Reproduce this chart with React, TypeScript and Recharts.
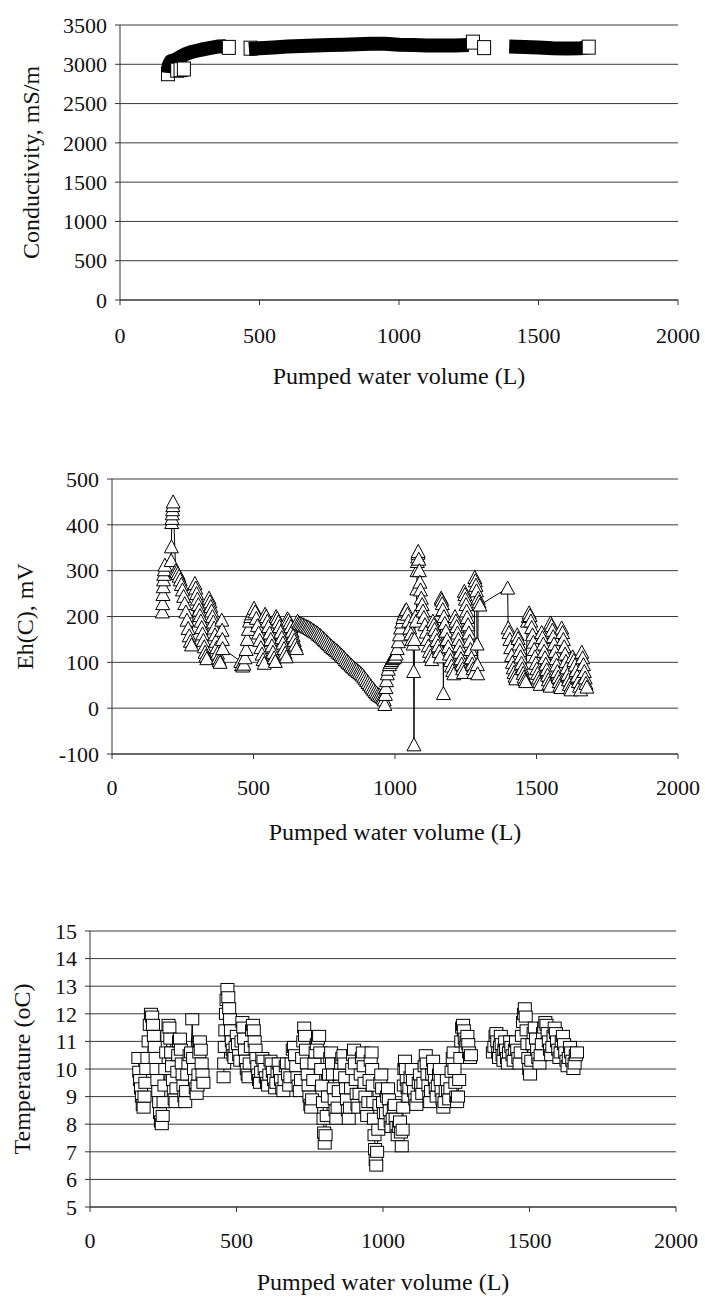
import { CartesianGrid, Scatter, ScatterChart, XAxis, YAxis } from 'recharts';

type Pt = [number, number];

const FONT = 'Liberation Serif';
const INK = '#111';
const GRID = '#3a3a3a';

const VOLUME_TICKS = [0, 500, 1000, 1500, 2000];
const COND_TICKS = [0, 500, 1000, 1500, 2000, 2500, 3000, 3500];
const EH_TICKS = [-100, 0, 100, 200, 300, 400, 500];
const TEMP_TICKS = [5, 6, 7, 8, 9, 10, 11, 12, 13, 14, 15];

// Conductivity (mS/m) – three logging runs, so dense they read as one band
const condRun1: Pt[] = [
  [172, 2890], [175, 2990], [182, 3040], [200, 3060], [215, 3090], [235, 3130],
  [260, 3160], [290, 3185], [320, 3205], [350, 3225], [380, 3230],
];
const condRun2: Pt[] = [
  [462, 3195], [500, 3205], [550, 3215], [600, 3225], [650, 3232], [700, 3238],
  [750, 3245], [800, 3250], [850, 3255], [900, 3262], [950, 3260], [1000, 3250],
  [1050, 3245], [1100, 3240], [1150, 3238], [1200, 3240], [1250, 3245],
];
const condRun3: Pt[] = [
  [1395, 3225], [1450, 3220], [1500, 3215], [1550, 3205], [1600, 3200],
  [1650, 3205], [1680, 3215],
];
const condFirst: Pt[] = [[172, 2880], [468, 3205]];
const condLast: Pt[] = [
  [205, 2925], [217, 2932], [229, 2940], [390, 3215], [1265, 3282],
  [1305, 3212], [1680, 3218],
];

// Eh(C) in mV
const ehStart: Pt[] = [
  [178, 210], [179, 228], [180, 248], [181, 265], [182, 280], [183, 292], [185, 302],
  [187, 312], [209, 322], [210, 352], [211, 405], [212, 414], [213, 424], [214, 433],
  [215, 442], [216, 450],
];
const ehEarly: Pt[] = [
  [225, 300], [229, 298], [233, 294], [237, 288], [241, 280], [245, 270], [249, 258],
  [253, 244], [257, 228], [261, 210], [265, 192], [269, 174], [273, 158], [277, 146],
  [281, 138], [293, 272], [296, 262], [299, 250], [302, 238], [305, 226], [308, 214],
  [311, 202], [314, 190], [317, 176], [320, 162], [323, 148], [326, 134], [329, 122],
  [332, 114], [335, 108], [343, 240], [346, 232], [349, 222], [352, 212], [355, 200],
  [358, 188], [361, 175], [364, 160], [367, 146], [370, 132], [373, 120], [376, 110],
  [379, 104], [382, 100], [388, 192], [389, 170], [390, 150], [391, 130],
];
const ehMiddle: Pt[] = [
  [455, 102], [458, 95], [462, 92], [466, 96], [470, 110], [474, 128], [478, 150],
  [482, 172], [486, 190], [490, 200], [494, 206], [498, 212], [502, 218], [506, 210],
  [510, 196], [514, 180], [518, 164], [522, 148], [526, 132], [530, 118], [534, 106],
  [538, 98], [541, 205], [545, 200], [549, 190], [553, 178], [557, 164], [561, 150],
  [565, 136], [569, 122], [573, 110], [577, 102], [580, 200], [584, 196], [588, 188],
  [592, 178], [596, 166], [600, 154], [604, 142], [608, 130], [612, 120], [616, 112],
  [620, 195], [624, 192], [628, 186], [632, 178], [636, 168], [640, 158], [644, 148],
  [648, 138], [652, 130], [656, 190],
];
// slow decline towards the minimum near 960 L
const ehDecline: Pt[] = [
  [660, 186], [665, 185], [670, 183], [675, 182], [680, 180], [685, 179], [690, 177],
  [695, 176], [700, 174], [705, 172], [710, 170], [715, 168], [720, 166], [725, 164],
  [730, 161], [735, 159], [740, 156], [745, 153], [750, 150], [755, 147], [760, 144],
  [765, 141], [770, 138], [775, 135], [780, 132], [785, 130], [790, 127], [795, 125],
  [800, 122], [805, 119], [810, 116], [815, 113], [820, 110], [825, 106], [830, 103],
  [835, 100], [840, 97], [845, 94], [850, 91], [855, 88], [860, 85], [865, 83],
  [870, 80], [875, 78], [880, 75], [885, 72], [890, 68], [895, 64], [900, 60],
  [905, 56], [910, 52], [915, 48], [920, 44], [925, 40], [930, 36], [935, 33],
  [940, 30], [945, 28], [950, 26], [955, 24], [958, 22],
];
const ehLate: Pt[] = [
  [962, 18], [964, 8], [966, 30], [968, 45], [970, 60], [973, 75], [976, 85], [980, 95],
  [984, 100], [988, 104], [992, 108], [996, 110], [1000, 112], [1004, 118], [1008, 130],
  [1012, 145], [1016, 160], [1020, 175], [1024, 188], [1028, 198], [1032, 206],
  [1036, 212], [1040, 215], [1044, 205], [1048, 190], [1052, 175], [1056, 162],
  [1060, 150], [1064, 140], [1066, 80], [1067, -80], [1069, 150], [1072, 200],
  [1075, 190], [1077, 260], [1078, 300], [1079, 320], [1080, 330], [1081, 338],
  [1082, 342], [1084, 325], [1086, 300], [1088, 275], [1090, 258], [1093, 240],
  [1096, 226], [1099, 212], [1102, 198], [1106, 182], [1110, 166], [1114, 150],
  [1118, 136], [1122, 124], [1126, 114], [1130, 106], [1134, 190], [1137, 182],
  [1140, 172], [1144, 160], [1148, 148], [1152, 136], [1156, 124], [1160, 112],
  [1163, 240], [1165, 236], [1167, 228], [1169, 215], [1171, 32], [1173, 200],
  [1176, 185], [1180, 168], [1184, 150], [1188, 134], [1192, 118], [1196, 104],
  [1200, 92], [1204, 82], [1208, 75], [1212, 200], [1215, 190], [1218, 178],
  [1221, 164], [1224, 150], [1227, 136], [1230, 122], [1233, 108], [1236, 96],
  [1239, 86], [1242, 78], [1245, 255], [1247, 248], [1249, 238], [1251, 226],
  [1253, 212], [1255, 198], [1258, 182], [1261, 164], [1264, 146], [1267, 128],
  [1270, 110], [1273, 96], [1276, 86], [1279, 78], [1282, 285], [1284, 278],
  [1286, 268], [1288, 256], [1290, 140], [1291, 95], [1292, 75], [1294, 240],
  [1297, 232], [1300, 225],
];
const ehEnd: Pt[] = [
  [1398, 262], [1400, 175], [1403, 165], [1406, 150], [1409, 132], [1412, 115],
  [1415, 100], [1418, 88], [1421, 78], [1424, 70], [1427, 64], [1432, 160], [1435, 152],
  [1438, 140], [1441, 126], [1444, 112], [1447, 98], [1450, 86], [1453, 76], [1456, 68],
  [1459, 62], [1462, 58], [1468, 190], [1471, 200], [1474, 208], [1477, 202],
  [1480, 190], [1483, 176], [1486, 160], [1489, 144], [1492, 128], [1495, 112],
  [1498, 98], [1501, 86], [1504, 76], [1507, 66], [1510, 58], [1513, 52], [1518, 165],
  [1521, 154], [1524, 140], [1527, 124], [1530, 110], [1533, 96], [1536, 84], [1539, 72],
  [1542, 62], [1545, 54], [1548, 48], [1550, 186], [1553, 180], [1556, 170],
  [1559, 156], [1562, 140], [1565, 124], [1568, 108], [1571, 94], [1574, 80], [1577, 68],
  [1580, 58], [1583, 50], [1586, 45], [1589, 175], [1592, 165], [1595, 150], [1598, 134],
  [1601, 118], [1604, 102], [1607, 88], [1610, 74], [1613, 62], [1616, 52], [1619, 44],
  [1622, 40], [1628, 112], [1632, 104], [1636, 94], [1640, 82], [1644, 70], [1648, 58],
  [1652, 48], [1656, 40], [1660, 122], [1663, 110], [1666, 95], [1669, 80], [1672, 66],
  [1675, 54], [1678, 46],
];

// Temperature in °C
const tempRun1: Pt[] = [
  [165, 10.4], [168, 9.9], [171, 9.6], [174, 9.3], [177, 9.0], [180, 8.7], [183, 8.6],
  [186, 9.0], [189, 9.5], [192, 10.0], [196, 10.4], [200, 11.0], [204, 11.6], [208, 12.0],
  [212, 11.9], [215, 11.6], [218, 11.2], [221, 10.8], [224, 10.4], [227, 10.0], [230, 9.6],
  [233, 9.2], [236, 8.8], [239, 8.4], [242, 8.1], [245, 8.0], [248, 8.3], [251, 8.8],
  [254, 9.4], [257, 10.0], [260, 10.6], [264, 11.2], [268, 11.6], [271, 11.5], [274, 11.1],
  [277, 10.6], [280, 10.1], [283, 9.6], [286, 9.2], [289, 8.9], [292, 8.8], [295, 9.3],
  [298, 9.9], [301, 10.5], [304, 11.0], [307, 11.1], [310, 10.7], [313, 10.2], [316, 9.8],
  [319, 9.4], [322, 9.0], [325, 8.8], [328, 9.2], [332, 9.8], [336, 10.2], [340, 10.5],
  [345, 10.6], [349, 11.8], [352, 10.4], [355, 10.0], [358, 9.6], [361, 9.3], [364, 9.1],
  [367, 9.4], [370, 9.8], [373, 10.6], [375, 11.0], [378, 10.7], [381, 10.2], [384, 9.8],
  [387, 9.5],
];
const tempRun2: Pt[] = [
  [456, 9.7], [458, 10.2], [460, 10.8], [462, 11.4], [464, 12.0], [466, 12.5], [469, 12.9],
  [472, 12.6], [475, 12.2], [478, 11.8], [481, 11.4], [484, 11.0], [487, 10.7], [490, 10.5],
  [493, 10.4], [497, 10.8], [501, 11.2], [505, 10.9], [509, 10.5], [513, 10.3], [517, 11.0],
  [520, 11.7], [523, 11.5], [526, 11.1], [529, 10.7], [532, 10.3], [535, 10.0], [538, 9.8],
  [541, 9.7], [545, 10.2], [549, 10.8], [553, 11.4], [556, 11.6], [559, 11.4], [562, 11.0],
  [565, 10.7], [568, 10.4], [571, 10.1], [574, 9.8], [577, 9.6], [580, 9.5], [584, 9.9],
  [588, 10.4], [592, 10.3], [596, 10.0], [600, 9.7], [604, 9.5], [608, 9.4], [612, 9.8],
  [616, 10.3], [620, 10.2], [624, 9.9], [628, 9.6], [632, 9.3], [636, 9.5], [640, 9.9],
  [644, 10.2], [648, 9.9], [652, 9.6], [656, 9.3], [660, 9.2], [664, 9.6], [668, 10.1],
  [672, 10.2], [676, 9.8], [680, 9.4], [684, 9.7], [688, 10.2], [692, 10.7], [696, 10.8],
  [700, 10.5], [704, 10.1], [708, 9.7], [712, 9.4], [716, 9.2], [720, 9.6], [724, 10.4],
  [728, 11.0], [731, 11.5], [734, 11.2], [737, 10.7], [740, 10.2], [743, 9.8], [746, 9.4],
  [749, 9.0], [752, 8.7], [755, 8.6], [758, 8.9], [762, 9.6], [766, 10.2], [770, 10.6],
  [774, 10.9], [778, 11.1], [782, 11.2], [786, 10.6], [789, 10.0], [792, 9.4], [795, 8.8],
  [797, 8.2], [799, 7.7], [801, 7.3], [804, 7.6], [808, 8.3], [812, 9.0], [816, 9.8],
  [820, 10.4], [823, 10.6], [826, 10.2], [829, 9.8], [832, 9.3], [835, 8.9], [838, 8.5],
  [841, 8.2], [845, 8.6], [849, 9.2], [853, 9.8], [857, 10.2], [861, 10.4], [865, 10.5],
  [868, 10.2], [871, 9.7], [874, 9.3], [877, 8.9], [880, 8.5], [883, 8.2], [887, 8.6],
  [891, 9.3], [895, 10.0], [898, 10.5], [901, 10.7], [904, 10.2], [907, 9.6], [910, 9.1],
  [913, 8.7], [916, 8.6], [920, 9.1], [924, 9.8], [928, 10.4], [931, 10.6], [934, 10.1],
  [937, 9.5], [940, 9.0], [943, 8.6], [946, 8.3], [950, 8.8], [954, 9.6], [958, 10.3],
  [961, 10.6], [963, 10.0], [965, 9.4], [967, 8.8], [969, 8.2], [971, 7.6], [973, 7.1],
  [975, 6.7], [977, 6.5], [980, 7.0], [984, 7.8], [988, 8.7], [991, 9.5], [994, 9.8],
  [997, 9.3], [1000, 8.8], [1003, 8.4], [1006, 8.0], [1010, 8.4], [1014, 9.0], [1017, 9.3],
  [1020, 8.9], [1023, 8.5], [1026, 8.1], [1029, 7.9], [1033, 8.2], [1037, 8.6], [1040, 8.7],
  [1043, 8.2], [1046, 7.9], [1050, 7.6], [1054, 7.9], [1058, 8.1], [1061, 7.7], [1064, 7.2],
  [1067, 7.8], [1069, 8.6], [1071, 9.4], [1073, 10.0], [1075, 10.3], [1078, 10.0],
  [1081, 9.6], [1084, 9.3], [1087, 9.0], [1090, 9.3], [1094, 9.7], [1098, 10.0], [1102, 9.6],
  [1106, 9.2], [1110, 8.9], [1114, 8.7], [1118, 9.0], [1122, 9.5], [1126, 9.8], [1130, 9.4],
  [1134, 9.1], [1138, 9.5], [1142, 10.1], [1146, 10.5], [1149, 10.2], [1152, 9.8],
  [1155, 9.4], [1158, 9.0], [1161, 8.8], [1164, 9.2], [1168, 9.8], [1171, 10.3],
  [1174, 10.0], [1177, 9.6], [1180, 9.3], [1183, 9.0], [1187, 9.4], [1191, 9.8],
  [1194, 10.0], [1197, 9.6], [1200, 9.2], [1203, 8.9], [1206, 8.6], [1210, 8.8],
  [1214, 9.2], [1218, 9.6], [1222, 9.2], [1226, 8.9], [1230, 9.3], [1234, 9.9],
  [1238, 10.4], [1241, 10.6], [1244, 10.0], [1247, 9.5], [1250, 9.0], [1253, 8.8],
  [1256, 9.0], [1260, 9.6], [1264, 10.4], [1267, 11.0], [1270, 11.5], [1273, 11.6],
  [1276, 11.4], [1279, 11.1], [1282, 10.8], [1285, 11.0], [1288, 11.2], [1291, 10.9],
  [1294, 10.6], [1297, 10.4], [1300, 10.5],
];
const tempRun3: Pt[] = [
  [1375, 10.6], [1380, 10.8], [1384, 11.2], [1387, 11.3], [1390, 11.0], [1393, 10.6],
  [1396, 10.4], [1399, 10.8], [1402, 11.2], [1405, 10.9], [1408, 10.5], [1411, 10.3],
  [1414, 10.7], [1417, 11.0], [1420, 10.7], [1423, 10.4], [1426, 10.2], [1430, 10.6],
  [1434, 11.0], [1438, 10.8], [1442, 10.5], [1446, 10.3], [1450, 10.7], [1454, 11.0],
  [1458, 10.7], [1462, 10.4], [1466, 10.2], [1470, 10.6], [1474, 11.2], [1478, 11.7],
  [1481, 12.0], [1484, 12.2], [1487, 11.9], [1490, 11.4], [1493, 10.9], [1496, 10.4],
  [1499, 10.0], [1502, 9.8], [1506, 10.3], [1510, 10.9], [1514, 11.3], [1518, 11.5],
  [1522, 11.1], [1526, 10.7], [1530, 10.4], [1534, 10.2], [1538, 10.5], [1542, 10.9],
  [1546, 11.3], [1550, 11.5], [1554, 11.7], [1558, 11.6], [1562, 11.3], [1566, 11.0],
  [1570, 10.7], [1574, 10.5], [1578, 10.8], [1582, 11.2], [1586, 11.5], [1590, 11.3],
  [1594, 11.0], [1598, 10.7], [1602, 10.4], [1606, 10.6], [1610, 11.0], [1614, 11.2],
  [1618, 10.9], [1622, 10.6], [1626, 10.3], [1630, 10.1], [1634, 10.4], [1638, 10.8],
  [1642, 10.6], [1646, 10.3], [1650, 10.0], [1654, 10.2], [1658, 10.5], [1662, 10.6],
];

const rows = (pts: Pt[]) => pts.map(([x, y]) => ({ x, y }));

const makeSquare = (w: number, h: number) => (props: any) => {
  const { cx, cy } = props;
  return (
    <rect x={cx - w / 2} y={cy - h / 2} width={w} height={h} fill="#fff" stroke="#000" strokeWidth={1} />
  );
};

const Triangle = (props: any) => {
  const { cx, cy } = props;
  return (
    <path
      d={`M${cx},${cy - 7} L${cx + 7},${cy + 6} L${cx - 7},${cy + 6} Z`}
      fill="#fff"
      stroke="#000"
      strokeWidth={1}
    />
  );
};

const Nothing = () => <g />;

const condSquare = makeSquare(13, 14);
const tempSquare = makeSquare(13, 11);

const tickFont = { fontFamily: FONT, fontSize: 22 };
const titleStyle = { fontFamily: FONT, fontSize: 24, fill: INK };

// tick text drawn by hand so the serif face is applied
const XTick = (props: any) => {
  const { x, y, payload } = props;
  return (
    <text x={x} y={y} dy="0.71em" textAnchor="middle" fill={INK} style={tickFont}>
      {payload.value}
    </text>
  );
};

const YTick = (props: any) => {
  const { x, y, payload } = props;
  return (
    <text x={x} y={y} dy="0.35em" textAnchor="end" fill={INK} style={tickFont}>
      {payload.value}
    </text>
  );
};

const xAxisFor = (tickMargin: number, offset: number) => (
  <XAxis
    dataKey="x"
    type="number"
    domain={[0, 2000]}
    ticks={VOLUME_TICKS}
    interval={0}
    tickSize={5}
    tickMargin={tickMargin}
    tick={XTick}
    axisLine={{ stroke: '#333' }}
    tickLine={{ stroke: '#333' }}
    height={40}
    label={{ value: 'Pumped water volume (L)', position: 'bottom', offset, style: titleStyle }}
  />
);

const yAxisFor = (domain: number[], ticks: number[], width: number, title: string, offset: number) => (
  <YAxis
    dataKey="y"
    type="number"
    domain={domain}
    ticks={ticks}
    interval={0}
    width={width}
    tickSize={5}
    tickMargin={8}
    tick={YTick}
    axisLine={{ stroke: '#333' }}
    tickLine={{ stroke: '#333' }}
    label={{
      value: title,
      angle: -90,
      position: 'insideLeft',
      offset,
      style: { ...titleStyle, textAnchor: 'middle' },
    }}
  />
);

const band = { stroke: '#000', strokeWidth: 14, strokeLinejoin: 'round', strokeLinecap: 'butt' } as any;
const thin = { stroke: '#000', strokeWidth: 1 };

export default function App() {
  return (
    <div
      style={{
        position: 'absolute',
        left: 0,
        top: 0,
        width: 705,
        height: 1299,
        background: '#fff',
        fontFamily: FONT,
      }}
    >
      <div style={{ position: 'absolute', left: 0, top: 0 }}>
        <ScatterChart width={705} height={420} margin={{ top: 25, right: 27, bottom: 80, left: 0 }}>
          <CartesianGrid vertical={false} stroke={GRID} />
          {xAxisFor(22, 27)}
          {yAxisFor([0, 3500], COND_TICKS, 120, 'Conductivity, mS/m', 30)}
          <Scatter data={rows(condFirst)} shape={condSquare} isAnimationActive={false} />
          <Scatter data={rows(condRun1)} line={band} lineType="joint" shape={Nothing} isAnimationActive={false} />
          <Scatter data={rows(condRun2)} line={band} lineType="joint" shape={Nothing} isAnimationActive={false} />
          <Scatter data={rows(condRun3)} line={band} lineType="joint" shape={Nothing} isAnimationActive={false} />
          <Scatter data={rows(condLast)} shape={condSquare} isAnimationActive={false} />
        </ScatterChart>
      </div>

      <div style={{ position: 'absolute', left: 0, top: 420 }}>
        <ScatterChart width={705} height={430} margin={{ top: 59, right: 27, bottom: 56, left: 0 }}>
          <CartesianGrid vertical={false} stroke={GRID} />
          {xAxisFor(20, 29)}
          {yAxisFor([-100, 500], EH_TICKS, 112, 'Eh(C), mV', 24)}
          <Scatter
            data={rows([...ehStart, ...ehEarly, ...ehMiddle, ...ehDecline, ...ehLate, ...ehEnd])}
            line={thin}
            lineType="joint"
            shape={Triangle}
            isAnimationActive={false}
          />
        </ScatterChart>
      </div>

      <div style={{ position: 'absolute', left: 0, top: 850 }}>
        <ScatterChart width={705} height={449} margin={{ top: 81, right: 29, bottom: 52, left: 0 }}>
          <CartesianGrid vertical={false} stroke={GRID} />
          {xAxisFor(20, 26)}
          {yAxisFor([5, 15], TEMP_TICKS, 90, 'Temperature (oC)', 21)}
          <Scatter data={rows(tempRun1)} line={thin} lineType="joint" shape={tempSquare} isAnimationActive={false} />
          <Scatter data={rows(tempRun2)} line={thin} lineType="joint" shape={tempSquare} isAnimationActive={false} />
          <Scatter data={rows(tempRun3)} line={thin} lineType="joint" shape={tempSquare} isAnimationActive={false} />
        </ScatterChart>
      </div>
    </div>
  );
}
